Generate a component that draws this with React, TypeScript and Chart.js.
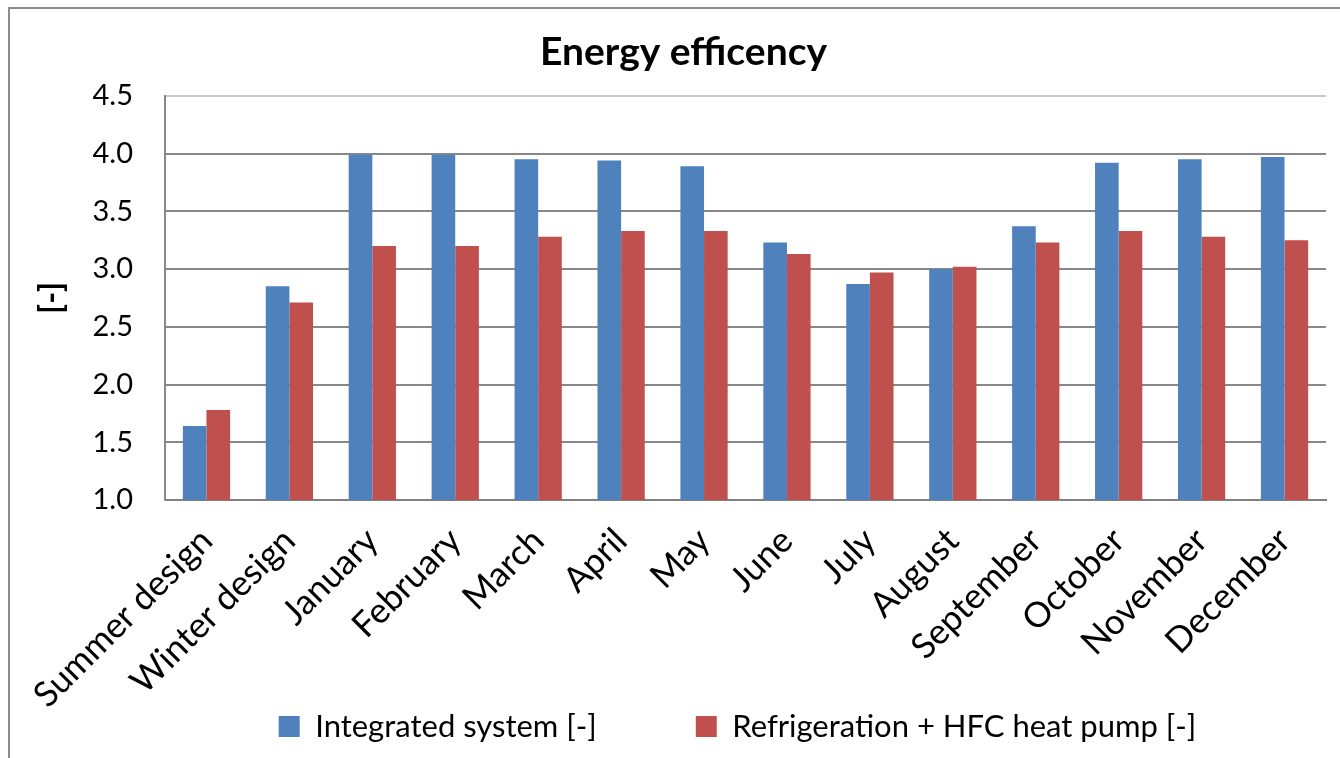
import React, { useEffect, useRef } from "react";
import { Chart, registerables } from "chart.js";

Chart.register(...registerables);

const categories = [
  "Summer design",
  "Winter design",
  "January",
  "February",
  "March",
  "April",
  "May",
  "June",
  "July",
  "August",
  "September",
  "October",
  "November",
  "December",
];

const integratedSystem = [1.64, 2.85, 3.99, 3.99, 3.95, 3.94, 3.89, 3.23, 2.87, 3.0, 3.37, 3.92, 3.95, 3.97];
const refrigerationHfc = [1.78, 2.71, 3.2, 3.2, 3.28, 3.33, 3.33, 3.13, 2.97, 3.02, 3.23, 3.33, 3.28, 3.25];

const seriesNames = ["Integrated system [-]", "Refrigeration + HFC heat pump [-]"];
const chartTitle = "Energy efficency";
const yAxisTitle = "[-]";
const yMin = 1.0;
const yMax = 4.5;
const yStep = 0.5;

const FONT = "Lato, 'Noto Sans', sans-serif";
const LEGEND_PADDING = 99;
const LEGEND_SHIFT_X = 54;
const LEGEND_ITEM_TOP = 711;

const placeLegend = {
  id: "placeLegend",
  afterLayout(chart: any) {
    const lg = chart.legend;
    if (lg) {
      lg.left += LEGEND_SHIFT_X;
      lg.right += LEGEND_SHIFT_X;
      lg.top = LEGEND_ITEM_TOP - LEGEND_PADDING;
      lg.bottom = chart.height;
    }
  },
};

export default function App() {
  const ref = useRef<HTMLCanvasElement | null>(null);

  useEffect(() => {
    if (!ref.current) return;
    Chart.defaults.color = "#000";
    const chart = new Chart(ref.current, {
      type: "bar",
      data: {
        labels: categories,
        datasets: [
          {
            label: seriesNames[0],
            data: integratedSystem,
            backgroundColor: "#4F81BD",
            categoryPercentage: 0.57,
            barPercentage: 1.0,
          },
          {
            label: seriesNames[1],
            data: refrigerationHfc,
            backgroundColor: "#C0504D",
            categoryPercentage: 0.57,
            barPercentage: 1.0,
          },
        ],
      },
      plugins: [placeLegend],
      options: {
        animation: false,
        responsive: false,
        maintainAspectRatio: false,
        layout: { padding: { left: 41, right: 14, top: 0, bottom: 0 } },
        plugins: {
          title: {
            display: true,
            text: chartTitle,
            color: "#000",
            font: { family: FONT, size: 39, weight: "bold", lineHeight: 1.2 },
            padding: { top: 29, bottom: 20 },
          },
          legend: {
            position: "bottom",
            maxHeight: 50,
            labels: {
              boxWidth: 21,
              boxHeight: 21,
              padding: LEGEND_PADDING,
              color: "#000",
              font: { family: FONT, size: 31 },
            },
          },
          tooltip: { enabled: false },
        },
        scales: {
          x: {
            afterFit(scale: any) {
              scale.height = 208;
            },
            grid: {
              offset: true,
              drawTicks: false,
              lineWidth: 2,
              color: (ctx: any) => (ctx.index === categories.length ? "#c8c8c8" : "rgba(0,0,0,0)"),
            },
            border: { display: true, color: "#808080", width: 2 },
            ticks: {
              minRotation: 45,
              maxRotation: 45,
              autoSkip: false,
              padding: 20,
              color: "#000",
              font: { family: FONT, size: 35 },
            },
          },
          y: {
            min: yMin,
            max: yMax,
            afterFit(scale: any) {
              scale.width = 124;
            },
            grid: {
              drawTicks: false,
              lineWidth: 2,
              color: (ctx: any) => (ctx.tick && ctx.tick.value === yMax ? "#c8c8c8" : "#888888"),
            },
            border: { display: true, color: "#888888", width: 2 },
            ticks: {
              stepSize: yStep,
              padding: 32,
              color: "#000",
              font: { family: FONT, size: 29 },
              callback: (v: any) => Number(v).toFixed(1),
            },
            title: {
              display: true,
              text: yAxisTitle,
              color: "#000",
              padding: { top: -9, bottom: 0 },
              font: { family: FONT, size: 32, weight: "bold" },
            },
          },
        },
      },
    });
    return () => chart.destroy();
  }, []);

  return (
    <div
      style={{
        position: "fixed",
        left: 0,
        top: 0,
        width: 1340,
        height: 758,
        overflow: "hidden",
        background: "#fff",
      }}
    >
      <div
        style={{
          position: "absolute",
          left: 8,
          top: 7,
          width: 2000,
          height: 2000,
          border: "2px solid #8c8c8c",
        }}
      />
      <canvas ref={ref} width={1340} height={758} style={{ position: "absolute", left: 0, top: 0 }} />
    </div>
  );
}
